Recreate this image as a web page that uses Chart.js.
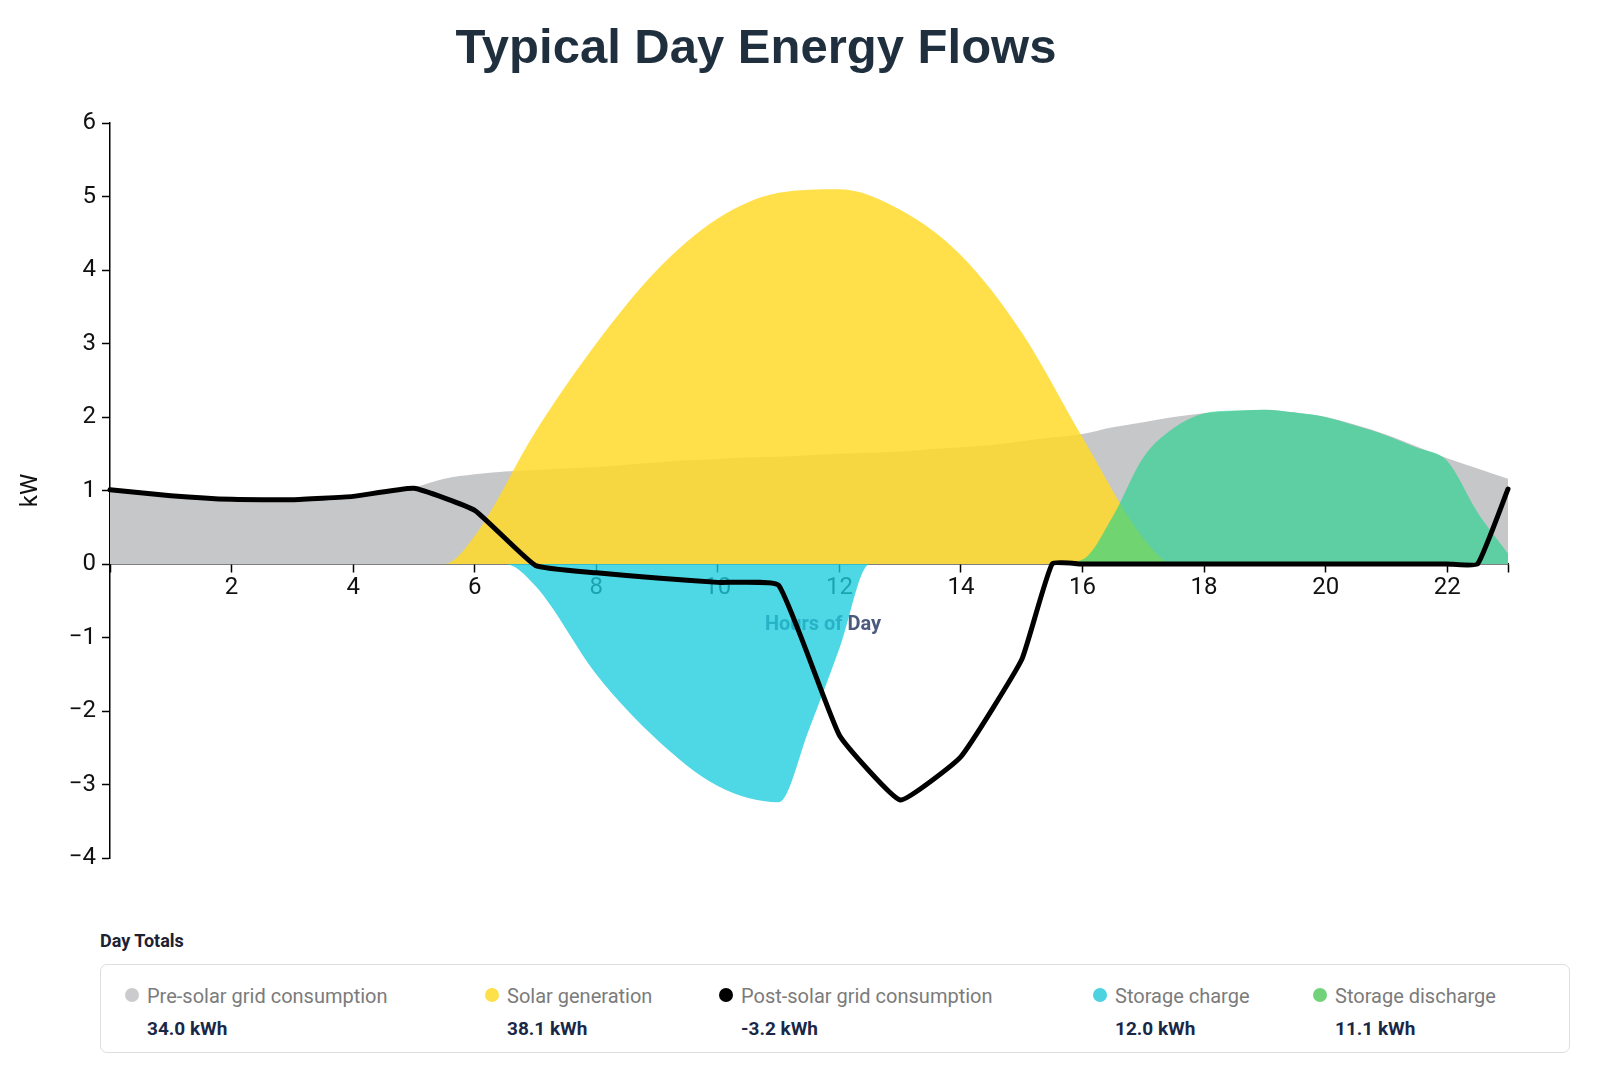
<!DOCTYPE html>
<html>
<head>
<meta charset="utf-8">
<script src="https://cdn.jsdelivr.net/npm/chart.js@4.4.1/dist/chart.umd.min.js"></script>
<style>
  body { margin:0; background:#fff; width:1604px; height:1084px; position:relative; overflow:hidden; font-family:Roboto, sans-serif; }
  #title { position:absolute; left:0; top:22px; width:1512px; text-align:center; font:bold 49px/49px "Liberation Sans", Arial, sans-serif; color:#1f2f3d; }
  #wrap { position:absolute; left:0; top:0; width:1512px; height:880px; }
  #totalsHead { position:absolute; left:100px; top:930px; font:700 18px/22px Roboto; color:#1d2233; }
  #totals { position:absolute; left:100px; top:964px; width:1470px; height:89px; border:1.5px solid #dedede; border-radius:7px; box-sizing:border-box; }
  .item { position:absolute; top:19px; }
  .dot { position:absolute; left:-22px; top:4px; width:14px; height:14px; border-radius:50%; }
  .lbl { font:400 20px/24px Roboto; color:#7b7b7b; white-space:nowrap; }
  .val { font:700 19px/24px Roboto; color:#1a2847; margin-top:9px; white-space:nowrap; }
</style>
</head>
<body>
<div id="title">Typical Day Energy Flows</div>
<div id="wrap"><canvas id="flowChart"></canvas></div>
<div id="totalsHead">Day Totals</div>
<div id="totals"></div>

<script>
// hours of the day (half-hour steps)
const hours = [0,0.5,1,1.5,2,2.5,3,3.5,4,4.5,5,5.5,6,6.5,7,7.5,8,8.5,9,9.5,10,10.5,11,11.5,
               12,12.5,13,13.5,14,14.5,15,15.5,16,16.5,17,17.5,18,18.5,19,19.5,20,20.5,21,21.5,22,22.5,23];

// kW values (null = no reading at that half hour)
const preSolar = [1.01,0.96,0.93,0.90,0.88,0.875,0.875,0.89,0.92,0.97,1.04,1.16,1.22,1.26,1.28,1.30,1.32,1.35,1.38,1.41,
                  1.43,1.45,1.46,1.48,1.50,1.51,1.53,1.56,1.59,1.62,1.67,1.72,1.77,1.86,1.93,2.00,2.05,2.08,2.10,2.06,
                  2.00,1.89,1.76,1.60,1.44,1.30,1.16];
const solar = [0,null,0,null,0,null,0,null,0,null,0,0,0.38,null,1.8,null,3.0,null,4.0,null,
               4.7,null,5.05,null,5.1,null,4.82,null,4.2,null,3.15,null,1.72,null,0.35,0,0,null,0,null,
               0,null,0,null,0,null,0];
const postSolar = [1.01,null,0.93,null,0.88,null,0.875,null,0.92,null,1.03,null,0.73,null,-0.02,null,-0.12,null,-0.19,null,
                   -0.25,null,-0.29,null,-2.33,null,-3.21,null,-2.62,null,-1.3,0,0,null,0,null,0,null,0,null,
                   0,null,0,null,0,0,1.02];
const storageCharge = [0,null,0,null,0,null,0,null,0,null,0,null,0,0,-0.3,null,-1.5,null,-2.39,null,
                       -3.02,null,-3.24,-2.25,-1.15,0,0,null,0,null,0,null,0,null,0,null,0,null,0,null,
                       0,null,0,null,0,null,0];
const storageDischarge = [0,null,0,null,0,null,0,null,0,null,0,null,0,null,0,null,0,null,0,null,
                          0,null,0,null,0,null,0,null,0,null,0,0,0.06,0.65,1.45,1.85,2.05,2.09,2.1,2.06,
                          2.0,1.88,1.75,1.58,1.4,0.7,0.14];

const xTickValues = [0,2,4,6,8,10,12,14,16,18,20,22,23];
const xTitle = 'Hours of Day';
const yTitle = 'kW';

// day totals (kWh)
const totalLabels = ['Pre-solar grid consumption','Solar generation','Post-solar grid consumption','Storage charge','Storage discharge'];
const totalValues = [34.0, 38.1, -3.2, 12.0, 11.1];
const totalDots = ['#cbcbcd','#fde04a','#000000','#4dd3e0','#72d27a'];

function pts(vals) {
    return vals.map((v, i) => ({ x: hours[i], y: v }));
}

// day totals box
const itemLeft = [46, 406, 640, 1014, 1234];
const box = document.getElementById('totals');
totalLabels.forEach((lbl, i) => {
    const el = document.createElement('div');
    el.className = 'item';
    el.style.left = itemLeft[i] + 'px';
    el.innerHTML = '<span class="dot" style="background:' + totalDots[i] + '"></span>' +
        '<div class="lbl">' + lbl + '</div><div class="val">' + totalValues[i].toFixed(1) + ' kWh</div>';
    box.appendChild(el);
});

// x axis title drawn under the fills
const axisTitle = {
    id: 'axisTitle',
    beforeDatasetsDraw(chart) {
        const { ctx, chartArea, scales } = chart;
        const y0 = scales.y.getPixelForValue(0);
        ctx.save();
        ctx.font = 'bold 20px Roboto';
        ctx.fillStyle = '#4b5a7d';
        ctx.textAlign = 'center';
        ctx.textBaseline = 'alphabetic';
        ctx.fillText(xTitle, (chartArea.left + chartArea.right) / 2 + 14, y0 + 66);
        ctx.restore();
    }
};

function draw() {
    const area = { borderWidth: 0, borderColor: 'transparent', pointRadius: 0, fill: 'origin',
                   cubicInterpolationMode: 'monotone', spanGaps: true };
    new Chart(document.getElementById('flowChart').getContext('2d'), {
        type: 'line',
        data: {
            datasets: [
                { label: 'Post-solar grid consumption', data: pts(postSolar), borderColor: '#000', borderWidth: 5,
                  fill: false, pointRadius: 0, tension: 0.12, spanGaps: true,
                  borderJoinStyle: 'round', borderCapStyle: 'round', clip: 6, order: 0 },
                Object.assign({ label: 'Storage discharge', data: pts(storageDischarge), backgroundColor: 'rgba(29,211,140,0.62)', order: 1 }, area),
                Object.assign({ label: 'Storage charge', data: pts(storageCharge), backgroundColor: 'rgba(28,204,220,0.78)', order: 2 }, area),
                Object.assign({ label: 'Solar generation', data: pts(solar), backgroundColor: 'rgba(255,218,40,0.84)', order: 3 }, area),
                Object.assign({ label: 'Pre-solar grid consumption', data: pts(preSolar), backgroundColor: 'rgb(198,199,201)', order: 4 }, area)
            ]
        },
        options: {
            responsive: true,
            maintainAspectRatio: false,
            animation: false,
            layout: { padding: { top: 123, right: 4, bottom: 22, left: 0 } },
            plugins: { legend: { display: false }, tooltip: { enabled: false }, title: { display: false } },
            scales: {
                x: {
                    type: 'linear',
                    min: 0,
                    max: 23,
                    position: { y: 0 },
                    afterBuildTicks: (s) => { s.ticks = xTickValues.map(v => ({ value: v })); },
                    ticks: {
                        autoSkip: false, maxRotation: 0, padding: 2, color: '#111',
                        font: { family: 'Roboto', size: 24 },
                        callback: (v) => (v === 0 || v === 23) ? '' : String(v)
                    },
                    grid: { drawOnChartArea: false, drawTicks: true, tickLength: 8, tickColor: '#000', tickWidth: 1.5 },
                    border: { color: '#000', width: 1.5 }
                },
                y: {
                    min: -4,
                    max: 6,
                    afterFit: (s) => { s.width = 110; },
                    ticks: {
                        stepSize: 1, padding: 6, color: '#111',
                        font: { family: 'Roboto', size: 24 },
                        callback: (v) => String(v).replace('-', '\u2212')
                    },
                    grid: { drawOnChartArea: false, drawTicks: true, tickLength: 8, tickColor: '#000', tickWidth: 1.5 },
                    border: { color: '#000', width: 1.5 },
                    title: { display: true, text: yTitle, color: '#111', font: { family: 'Roboto', size: 24 }, padding: { top: 17, bottom: 0 } }
                }
            }
        },
        plugins: [axisTitle]
    });
}

document.fonts.load('24px Roboto').then(draw, draw);
</script>
</body>
</html>
